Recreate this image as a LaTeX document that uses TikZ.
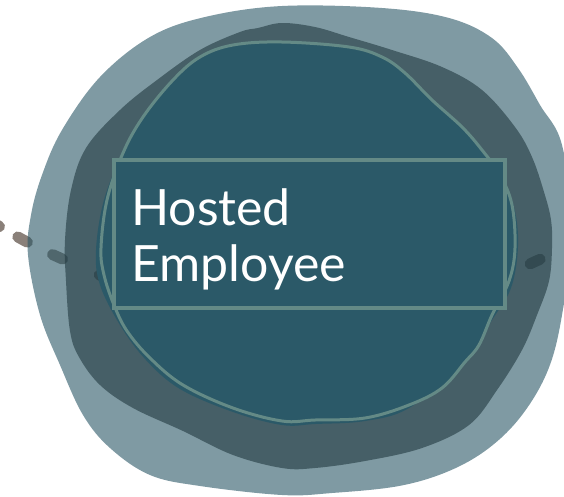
\documentclass[tikz,border=0pt]{standalone}
\usepackage{fontspec}
\setmainfont{Lato}
\usetikzlibrary{positioning}

\definecolor{blobteal}{HTML}{2A5766}
\definecolor{blobdark}{HTML}{20383F}
\definecolor{coreteal}{HTML}{2B5968}
\definecolor{sage}{HTML}{648A86}
\definecolor{linkgray}{HTML}{8A8079}

\tikzset{
  outerblob/.style={fill=blobteal,fill opacity=0.6},
  midblob/.style={fill=blobdark,fill opacity=0.6},
  corefill/.style={fill=coreteal},
  coreline/.style={draw=sage,line width=3pt,fill=coreteal},
  empbox/.style={rectangle,draw=sage,line width=4pt,fill=coreteal,minimum width=391pt,minimum height=148pt,inner sep=0pt},
  emplabel/.style={text=white,align=left,inner sep=0pt,font=\fontsize{50}{56}\selectfont},
  linkdash/.style={draw=linkgray,line width=11pt,line cap=round}
}

\begin{document}
\begin{tikzpicture}[x=1pt,y=-1pt]
\useasboundingbox (0,0) rectangle (564,496);
\clip (0,0) rectangle (564,496);
% dashed link running under the blobs
\coordinate (linkin) at (-10,221);
\coordinate (linkleft) at (140,292);
\coordinate (linkright) at (470,291);
\coordinate (linkout) at (554,253);
\draw[linkdash,dash pattern=on 11pt off 21pt on 11pt off 28pt on 11pt off 40pt] (linkin) .. controls (40,250) .. (linkleft);
\draw[linkdash,dash pattern=on 11pt off 30pt,dash phase=16pt] (linkright) -- (linkout);
% outer halo
\fill[outerblob] plot[smooth cycle,tension=0.6] coordinates {(282,6) (382,8) (449,18) (492,38) (518,68) (540,105) (562,145) (572,230) (562,315) (548,370) (522,415) (489,448) (449,471) (399,486) (332,493) (282,495) (200,486) (150,475) (110,448) (83,415) (60,365) (40,315) (28,255) (31,215) (42,175) (62,130) (100,77) (150,37) (205,17)};
% middle ring
\fill[midblob] plot[smooth cycle,tension=0.6] coordinates {(282,23) (315,27) (349,37) (392,50) (442,67) (482,90) (515,127) (532,157) (544,192) (551,220) (552,248) (549,281) (537,315) (522,350) (497,390) (469,425) (422,448) (365,461) (315,468) (282,468) (233,455) (183,431) (133,408) (100,385) (79,357) (70,331) (66,281) (65,240) (71,190) (86,148) (120,110) (157,80) (200,50) (240,32) (258,28)};
% core
\fill[corefill] plot[smooth cycle,tension=0.6] coordinates {(282,48) (349,52) (390,66) (432,100) (480,150) (508,190) (518,235) (512,285) (492,320) (462,365) (409,408) (365,421) (315,424) (282,425) (233,412) (180,389) (146,360) (120,325) (100,285) (96,250) (104,200) (123,153) (150,108) (180,75) (233,50)};
\draw[coreline] plot[smooth cycle,tension=0.6] coordinates {(282,42) (349,47) (382,57) (405,73) (432,100) (462,127) (482,150) (500,175) (512,205) (515,248) (509,281) (492,315) (479,345) (465,362) (442,388) (409,405) (365,418) (315,420) (282,421) (233,408) (183,385) (150,358) (127,331) (114,305) (104,275) (101,248) (107,200) (123,153) (143,117) (173,80) (200,57) (233,45)};
% label box
\node[empbox] (box) at (309.5,234) {};
\node[emplabel,anchor=west] (label) at ([xshift=19pt,yshift=-5.5pt]box.west) {Hosted\\Employee};
\end{tikzpicture}
\end{document}
